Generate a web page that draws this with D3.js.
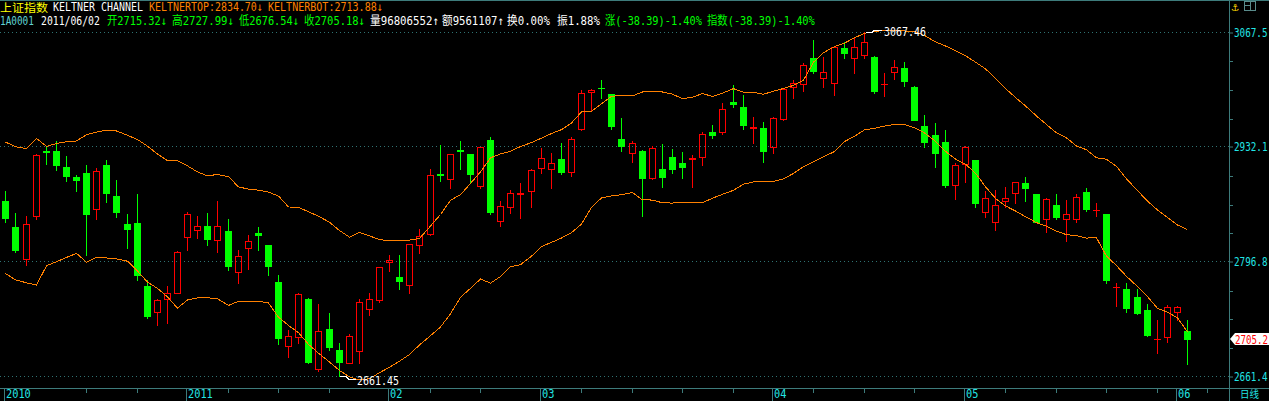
<!DOCTYPE html>
<html><head><meta charset="utf-8">
<script src="https://cdn.jsdelivr.net/npm/d3@7"></script>
<style>html,body{margin:0;padding:0;background:#000;overflow:hidden}svg{display:block}</style>
</head><body><svg id="c" width="1269" height="401"></svg>
<script>
const dates = [
"2010/12/08","2010/12/09","2010/12/10","2010/12/13","2010/12/14","2010/12/15","2010/12/16","2010/12/17","2010/12/20","2010/12/21",
"2010/12/22","2010/12/23","2010/12/24","2010/12/27","2010/12/28","2010/12/29","2010/12/30","2010/12/31","2011/01/04","2011/01/05",
"2011/01/06","2011/01/07","2011/01/10","2011/01/11","2011/01/12","2011/01/13","2011/01/14","2011/01/17","2011/01/18","2011/01/19",
"2011/01/20","2011/01/21","2011/01/24","2011/01/25","2011/01/26","2011/01/27","2011/01/28","2011/01/31","2011/02/01","2011/02/09",
"2011/02/10","2011/02/11","2011/02/14","2011/02/15","2011/02/16","2011/02/17","2011/02/18","2011/02/21","2011/02/22","2011/02/23",
"2011/02/24","2011/02/25","2011/02/28","2011/03/01","2011/03/02","2011/03/03","2011/03/04","2011/03/07","2011/03/08","2011/03/09",
"2011/03/10","2011/03/11","2011/03/14","2011/03/15","2011/03/16","2011/03/17","2011/03/18","2011/03/21","2011/03/22","2011/03/23",
"2011/03/24","2011/03/25","2011/03/28","2011/03/29","2011/03/30","2011/03/31","2011/04/01","2011/04/06","2011/04/07","2011/04/08",
"2011/04/11","2011/04/12","2011/04/13","2011/04/14","2011/04/15","2011/04/18","2011/04/19","2011/04/20","2011/04/21","2011/04/22",
"2011/04/25","2011/04/26","2011/04/27","2011/04/28","2011/04/29","2011/05/03","2011/05/04","2011/05/05","2011/05/06","2011/05/09",
"2011/05/10","2011/05/11","2011/05/12","2011/05/13","2011/05/16","2011/05/17","2011/05/18","2011/05/19","2011/05/20","2011/05/23",
"2011/05/24","2011/05/25","2011/05/26","2011/05/27","2011/05/30","2011/05/31","2011/06/01","2011/06/02"];

const open = [2868.3,2837.7,2799.5,2851.0,2927.2,2927.4,2908.5,2896.7,2901.4,2858.5,
2910.8,2874.2,2841.2,2842.4,2768.0,2737.0,2752.3,2760.1,2825.5,2833.8,
2838.5,2822.0,2832.9,2784.2,2812.5,2830.2,2816.4,2772.7,2696.8,2708.2,
2752.7,2669.7,2717.3,2692.5,2677.5,2691.6,2741.2,2751.8,2796.0,2778.6,
2769.5,2816.1,2829.0,2900.2,2894.0,2928.5,2923.5,2886.4,2940.4,2845.1,
2861.6,2877.2,2880.5,2906.9,2905.8,2917.9,2902.2,2953.0,2996.6,3002.3,
2994.6,2941.5,2924.6,2927.4,2895.1,2906.1,2919.9,2912.8,2917.6,2919.9,
2949.8,2949.4,2985.2,2978.9,2955.0,2954.1,2932.4,2964.8,3003.3,3006.4,
3036.8,3013.2,3007.3,3048.6,3036.8,3040.3,3038.7,3006.1,3021.0,3025.7,
3003.3,2956.9,2946.2,2938.0,2886.9,2911.7,2916.7,2855.0,2843.2,2868.7,
2877.4,2889.6,2876.6,2846.7,2863.6,2846.7,2847.4,2879.0,2857.4,2853.0,
2766.8,2764.5,2754.7,2739.7,2705.1,2708.2,2737.7,2715.32];

const high = [2880.1,2854.2,2850.6,2923.8,2933.6,2939.2,2921.5,2899.0,2910.8,2907.6,
2916.7,2893.1,2853.0,2876.6,2774.7,2752.3,2768.0,2809.0,2855.0,2850.6,
2854.2,2868.3,2847.1,2810.5,2827.9,2837.3,2817.0,2781.0,2716.1,2759.4,
2753.5,2746.8,2735.8,2701.1,2711.4,2752.7,2759.4,2790.8,2804.6,2804.6,
2817.6,2834.9,2906.1,2934.4,2924.0,2939.2,2924.0,2932.2,2943.5,2868.3,
2881.3,2889.6,2906.1,2931.2,2924.6,2936.4,2943.5,2999.4,3000.5,3011.2,
2995.2,2966.0,2939.2,2928.0,2933.3,2935.6,2929.7,2925.8,2922.3,2949.4,
2958.0,2983.7,3005.3,2993.4,2967.1,2961.2,2967.1,3000.7,3011.2,3030.9,
3058.4,3038.7,3050.3,3056.4,3061.6,3067.46,3039.3,3019.1,3034.8,3032.4,
3003.8,2969.9,2960.4,2952.1,2913.5,2933.3,2917.2,2880.1,2881.3,2884.5,
2890.9,2897.0,2877.1,2872.2,2876.6,2869.5,2876.6,2883.3,2865.6,2853.5,
2771.2,2771.2,2764.1,2746.4,2727.9,2745.6,2744.4,2727.99];

const low = [2843.9,2808.5,2793.2,2847.4,2912.4,2905.3,2892.3,2880.5,2804.6,2846.7,
2867.5,2849.8,2813.2,2775.1,2730.6,2722.3,2724.7,2759.4,2810.9,2825.0,
2816.8,2808.5,2787.3,2771.2,2788.4,2810.9,2781.0,2699.9,2684.6,2700.4,
2676.8,2668.0,2692.5,2661.45,2677.0,2677.5,2733.8,2749.5,2786.1,2764.5,
2760.1,2807.3,2828.5,2891.9,2883.3,2905.8,2890.4,2884.0,2852.6,2839.2,
2854.5,2848.6,2861.6,2901.7,2884.0,2900.2,2898.2,2952.5,2975.8,2989.6,
2953.3,2927.7,2914.7,2851.0,2894.6,2885.2,2901.0,2895.1,2885.2,2911.2,
2942.3,2947.1,2978.9,2953.3,2936.4,2914.7,2924.6,2964.3,2989.6,2998.5,
3019.8,3003.3,2993.4,3036.8,3019.8,3036.8,2996.2,2992.6,3012.3,3004.1,
2963.4,2931.5,2907.9,2885.2,2871.1,2890.2,2860.9,2849.8,2834.1,2861.3,
2865.6,2868.7,2843.4,2832.1,2846.7,2821.5,2843.9,2856.9,2850.6,2771.9,
2744.4,2737.0,2735.0,2709.0,2689.3,2702.3,2727.9,2676.54];

const close = [2848.6,2810.9,2840.8,2922.6,2926.6,2911.2,2898.2,2893.5,2853.3,2903.4,
2878.1,2855.7,2835.6,2781.4,2733.0,2751.1,2759.4,2807.8,2852.6,2838.5,
2823.8,2838.5,2792.0,2803.1,2820.8,2827.9,2792.0,2707.0,2708.6,2758.6,
2678.7,2714.6,2696.4,2678.7,2709.0,2749.1,2752.7,2790.1,2798.7,2774.3,
2817.2,2826.7,2899.0,2899.6,2923.5,2927.0,2899.9,2931.7,2855.7,2862.4,
2877.4,2877.8,2904.9,2918.7,2912.8,2902.9,2941.2,2995.5,2999.4,3001.7,
2957.2,2933.6,2936.4,2895.8,2930.5,2897.0,2906.1,2908.8,2918.7,2947.1,
2946.6,2976.6,2983.2,2958.4,2955.3,2927.7,2966.0,3000.2,3007.3,3028.9,
3022.1,3020.2,3049.8,3042.7,3049.8,3055.7,2998.2,3006.4,3026.1,3010.3,
2963.9,2938.3,2925.4,2887.2,2910.8,2931.7,2866.3,2871.5,2863.6,2871.5,
2890.4,2884.0,2843.9,2870.3,2849.8,2852.6,2872.7,2859.2,2857.7,2775.1,
2767.2,2742.4,2736.5,2710.2,2705.5,2742.9,2743.57,2705.18];

const keltnerTop = [2937.9,2932.4,2930.3,2942.3,2932.7,2936.3,2938.2,2939.2,2946.6,2949.7,
2952.1,2951.0,2945.9,2940.9,2933.1,2923.8,2915.9,2915.8,2909.8,2902.7,
2898.0,2899.7,2897.1,2885.0,2882.4,2881.1,2878.8,2874.2,2861.3,2860.9,
2855.6,2850.5,2843.2,2833.5,2825.7,2831.3,2827.2,2822.8,2821.5,2821.5,
2822.2,2824.1,2838.8,2852.4,2869.2,2875.8,2889.1,2902.6,2919.3,2923.9,
2927.0,2932.7,2937.3,2942.5,2948.0,2952.6,2960.4,2973.6,2974.2,2983.2,
2991.8,2993.1,2992.5,2997.0,2997.0,2997.0,2994.4,2989.1,2990.9,2995.1,
2991.8,2995.7,3001.0,2996.6,2996.5,2994.4,2997.9,3001.2,3004.8,3011.0,
3032.2,3043.4,3050.6,3054.7,3061.0,3066.3,3068.3,3069.8,3069.7,3069.0,
3068.3,3063.7,3056.2,3051.3,3045.9,3039.8,3032.3,3024.3,3013.0,3001.1,
2990.5,2980.5,2968.7,2958.6,2948.7,2942.8,2933.3,2928.8,2919.3,2917.6,
2909.2,2894.5,2880.6,2868.3,2857.7,2848.8,2840.0,2834.70];

const keltnerBot = [2782.8,2775.2,2771.8,2769.2,2791.9,2796.7,2801.7,2806.6,2796.1,2801.7,
2801.1,2800.0,2797.3,2785.6,2772.6,2765.2,2755.2,2741.9,2751.6,2754.0,
2754.2,2752.9,2745.1,2750.0,2750.0,2750.0,2748.0,2731.2,2721.5,2712.9,
2699.2,2688.7,2678.3,2668.3,2660.7,2657.1,2658.6,2665.7,2672.2,2679.3,
2687.2,2698.5,2709.4,2719.6,2735.3,2754.7,2765.2,2776.3,2771.3,2779.2,
2790.9,2793.2,2803.2,2814.6,2819.5,2824.7,2831.0,2841.0,2861.0,2871.9,
2874.4,2875.7,2878.5,2869.6,2869.5,2866.2,2865.9,2866.9,2866.9,2866.3,
2871.6,2876.3,2881.0,2888.2,2890.9,2891.0,2891.6,2894.5,2900.9,2908.8,
2914.8,2920.6,2926.7,2938.5,2944.7,2952.3,2954.2,2956.7,2958.8,2958.8,
2954.6,2948.7,2938.9,2927.0,2917.8,2911.9,2901.2,2885.2,2871.4,2862.6,
2856.5,2849.9,2842.8,2838.5,2832.7,2828.6,2827.4,2824.6,2825.0,2803.2,
2792.1,2779.4,2767.4,2755.5,2741.7,2737.2,2730.4,2713.88];

const priceTicks = [3067.46, 2932.12, 2796.79, 2661.45];
const priceTickLabels = ["3067.5", "2932.1", "2796.8", "2661.4"];
const monthTickDates = ["2010/12/08","2011/01/04","2011/02/01","2011/03/01","2011/04/01","2011/05/03","2011/06/01"];
const monthTickLabels = ["2010","2011","02","03","04","05","06"];
const weekTickDates = ["2010/12/20","2010/12/27","2011/01/10","2011/01/17","2011/01/24","2011/02/14","2011/02/21",
"2011/03/07","2011/03/14","2011/03/21","2011/03/28","2011/04/11","2011/04/18","2011/04/25",
"2011/05/09","2011/05/16","2011/05/23","2011/05/30","2011/06/07"];
const futureDates = ["2011/06/03","2011/06/07"];

const RED = "#ff0000", GREEN = "#00ff00", ORANGE = "#ff8000", AXIS = "#3d7b7b", CYAN = "#22e6e6";
const MONO = "'DejaVu Sans Mono','Liberation Mono','Noto Sans CJK SC',monospace";
const CJK = "'Noto Sans CJK SC','DejaVu Sans Mono',sans-serif";

const svg = d3.select("#c");
svg.append("rect").attr("width",1269).attr("height",401).attr("fill","#000");

// text placed at x0 and horizontally scaled to exact width w
function fitText(s, x0, yb, w, color, opts) {
  opts = opts || {};
  const t = svg.append("text").attr("x",0).attr("y",0).attr("fill",color)
    .attr("font-family",opts.fam || MONO).attr("font-size",opts.size || 12).text(s);
  const nat = t.node().getComputedTextLength() || w;
  t.attr("transform",`translate(${x0},${yb}) scale(${w / nat},1)`);
  return t;
}

const axisDates = dates.concat(futureDates);
const x = d3.scaleLinear().domain([0, dates.length - 1]).range([5.3, 1187]);
const xd = d => x(axisDates.indexOf(d));
const y = d3.scaleLinear().domain([2661.45, 3067.46]).range([376.3, 32.3]);

// frame lines
svg.append("line").attr("x1",0).attr("x2",1269).attr("y1",0.5).attr("y2",0.5).attr("stroke",AXIS);
svg.append("line").attr("x1",1229.5).attr("x2",1229.5).attr("y1",0).attr("y2",401).attr("stroke",AXIS);
svg.append("line").attr("x1",0).attr("x2",1269).attr("y1",388.5).attr("y2",388.5).attr("stroke",AXIS);

// grid
const grid = svg.append("g");
priceTicks.forEach(v => {
  const yy = Math.floor(y(v)) + 0.5;
  grid.append("line").attr("x1",0).attr("x2",1229).attr("y1",yy).attr("y2",yy)
    .attr("stroke","#2f7272").attr("stroke-dasharray","1,3");
});

// right price axis via d3 axis
const minor = [];
for (let k = 0; k < priceTicks.length - 1; k++) {
  for (let m = 1; m < 4; m++) minor.push(priceTicks[k] + (priceTicks[k+1]-priceTicks[k]) * m / 4);
}
const yAxisMinor = d3.axisRight(y).tickValues(minor).tickSize(3).tickFormat("");
const ga = svg.append("g").attr("transform","translate(1230,0)").call(yAxisMinor);
ga.select(".domain").remove();
ga.selectAll("line").attr("stroke",AXIS).attr("shape-rendering","crispEdges")
  .attr("transform", d => `translate(0,${Math.floor(y(d)) + 0.5 - y(d)})`);
const yAxisMajor = d3.axisRight(y).tickValues(priceTicks).tickSize(4).tickFormat("");
const gm = svg.append("g").attr("transform","translate(1229,0)").call(yAxisMajor);
gm.select(".domain").remove();
gm.selectAll("line").attr("stroke",AXIS).attr("transform", d => `translate(0,${Math.floor(y(d)) + 0.5 - y(d)})`);
priceTicks.forEach((v,k) => {
  fitText(priceTickLabels[k], 1234, Math.floor(y(v)) + 5, 33.5, CYAN);
});

// bottom date axis
const gx = svg.append("g");
weekTickDates.forEach(d => {
  const xx = Math.round(xd(d)) + 0.5;
  gx.append("line").attr("x1",xx).attr("x2",xx).attr("y1",389).attr("y2",393).attr("stroke",AXIS);
});
monthTickDates.forEach((d,k) => {
  const xx = Math.round(xd(d)) - 0.5;
  gx.append("line").attr("x1",xx).attr("x2",xx).attr("y1",389).attr("y2",401).attr("stroke",AXIS);
  const lab = monthTickLabels[k];
  fitText(lab, xx + 1.5, 398, lab.length * 6.2, CYAN, {size: 11.5});
});
fitText("日线", 1240, 398, 19, CYAN, {fam: CJK, size: 10});

// candles
const gc = svg.append("g").attr("shape-rendering","crispEdges");
dates.forEach((d,i) => {
  const cx = Math.round(x(i));
  const o = open[i], c = close[i], h = high[i], l = low[i];
  const up = c > o;
  const col = up ? RED : GREEN;
  const yo = Math.round(y(o)), yc = Math.round(y(c)), yh = Math.round(y(h)), yl = Math.round(y(l));
  const top = Math.min(yo,yc), bot = Math.max(yo,yc);
  if (!up || bot - top < 2) {
    gc.append("rect").attr("x",cx).attr("y",yh).attr("width",1).attr("height",Math.max(1,yl-yh+1)).attr("fill",col);
    gc.append("rect").attr("x",cx-3).attr("y",top).attr("width",7).attr("height",Math.max(1,bot-top+1)).attr("fill",col);
  } else {
    if (top > yh) gc.append("rect").attr("x",cx).attr("y",yh).attr("width",1).attr("height",top-yh).attr("fill",col);
    if (yl > bot) gc.append("rect").attr("x",cx).attr("y",bot+1).attr("width",1).attr("height",yl-bot).attr("fill",col);
    gc.append("rect").attr("x",cx-2.5).attr("y",top+0.5).attr("width",6).attr("height",bot-top)
      .attr("fill","none").attr("stroke",col).attr("stroke-width",1);
  }
});

// keltner bands
const line = d3.line().x((d,i) => Math.round(x(i)) + 0.5).y(d => y(d));
[keltnerTop, keltnerBot].forEach(arr => {
  svg.append("path").attr("d",line(arr)).attr("fill","none").attr("stroke",ORANGE)
    .attr("stroke-width",1).attr("shape-rendering","crispEdges");
});

// extreme markers
const hiIdx = high.indexOf(d3.max(high)), loIdx = low.indexOf(d3.min(low));
const hx = Math.round(x(hiIdx)), hy = Math.floor(y(high[hiIdx])) + 0.5;
svg.append("polyline").attr("points",`${hx+2},${hy} ${hx+8},${hy} ${hx+10},${hy-2} ${hx+18},${hy-2}`)
  .attr("fill","none").attr("stroke","#fff").attr("shape-rendering","crispEdges");
fitText(d3.format(".2f")(high[hiIdx]), hx + 20, hy + 3.5, 42, "#fff", {size: 12.5});
const lx = Math.round(x(loIdx)), ly = Math.floor(y(low[loIdx])) + 0.5;
svg.append("polyline").attr("points",`${lx+1},${ly} ${lx+7},${ly} ${lx+10},${ly+3} ${lx+17},${ly+3}`)
  .attr("fill","none").attr("stroke","#fff").attr("shape-rendering","crispEdges");
fitText(d3.format(".2f")(low[loIdx]), lx + 18, ly + 8, 42, "#fff", {size: 12.5});

// last price label
const lastC = close[close.length-1];
const lyC = Math.round(y(lastC));
svg.append("path").attr("d",`M1230,${lyC} L1235,${lyC-6} L1269,${lyC-6} L1269,${lyC+6} L1235,${lyC+6} Z`).attr("fill","#fff");
fitText(d3.format(".1f")(lastC), 1235, lyC + 4.5, 33, RED);

// header
const last = dates.length - 1;
fitText("上证指数", 0, 12, 48, "#ffff00", {size: 11.5});
fitText("KELTNER CHANNEL", 53, 11, 90, "#ffffff");
fitText("KELTNERTOP:" + keltnerTop[last].toFixed(2) + "↓", 149, 11, 114, ORANGE);
fitText("KELTNERBOT:" + keltnerBot[last].toFixed(2) + "↓", 268, 11, 115, ORANGE);

fitText("1A0001", 0, 25, 34, "#5fd2d2");
fitText(dates[last], 41, 25, 59, "#ffffff");
fitText("开" + open[last].toFixed(2) + "↓", 107, 25, 60, GREEN);
fitText("高" + high[last].toFixed(2) + "↓", 172, 25, 62, GREEN);
fitText("低" + low[last].toFixed(2) + "↓", 239, 25, 60, GREEN);
fitText("收" + close[last].toFixed(2) + "↓", 304, 25, 61, GREEN);
fitText("量96806552↑", 370, 25, 69, "#ffffff");
fitText("额9561107↑", 442, 25, 62, "#ffffff");
fitText("换0.00%", 507, 25, 43, "#ffffff");
fitText("振1.88%", 557, 25, 43, "#ffffff");
const chg = close[last] - close[last-1];
const pct = chg / close[last-1] * 100;
fitText("涨(" + chg.toFixed(2) + ")" + pct.toFixed(2) + "%", 605, 25, 97, GREEN);
fitText("指数(" + chg.toFixed(2) + ")" + pct.toFixed(2) + "%", 707, 25, 108, GREEN);

// top-right icons
svg.append("text").attr("x",1231).attr("y",10.5).attr("fill","#ffd800").attr("font-family","'DejaVu Sans'")
  .attr("font-size",9.5).text("⚓");
svg.append("rect").attr("x",1244.5).attr("y",1.5).attr("width",11).attr("height",9).attr("fill","none").attr("stroke","#5a8c8c");
svg.append("line").attr("x1",1250.5).attr("x2",1250.5).attr("y1",1.5).attr("y2",10.5).attr("stroke","#5a8c8c");
svg.append("line").attr("x1",1244.5).attr("x2",1250.5).attr("y1",5.5).attr("y2",5.5).attr("stroke","#5a8c8c");
</script>
</body></html>
